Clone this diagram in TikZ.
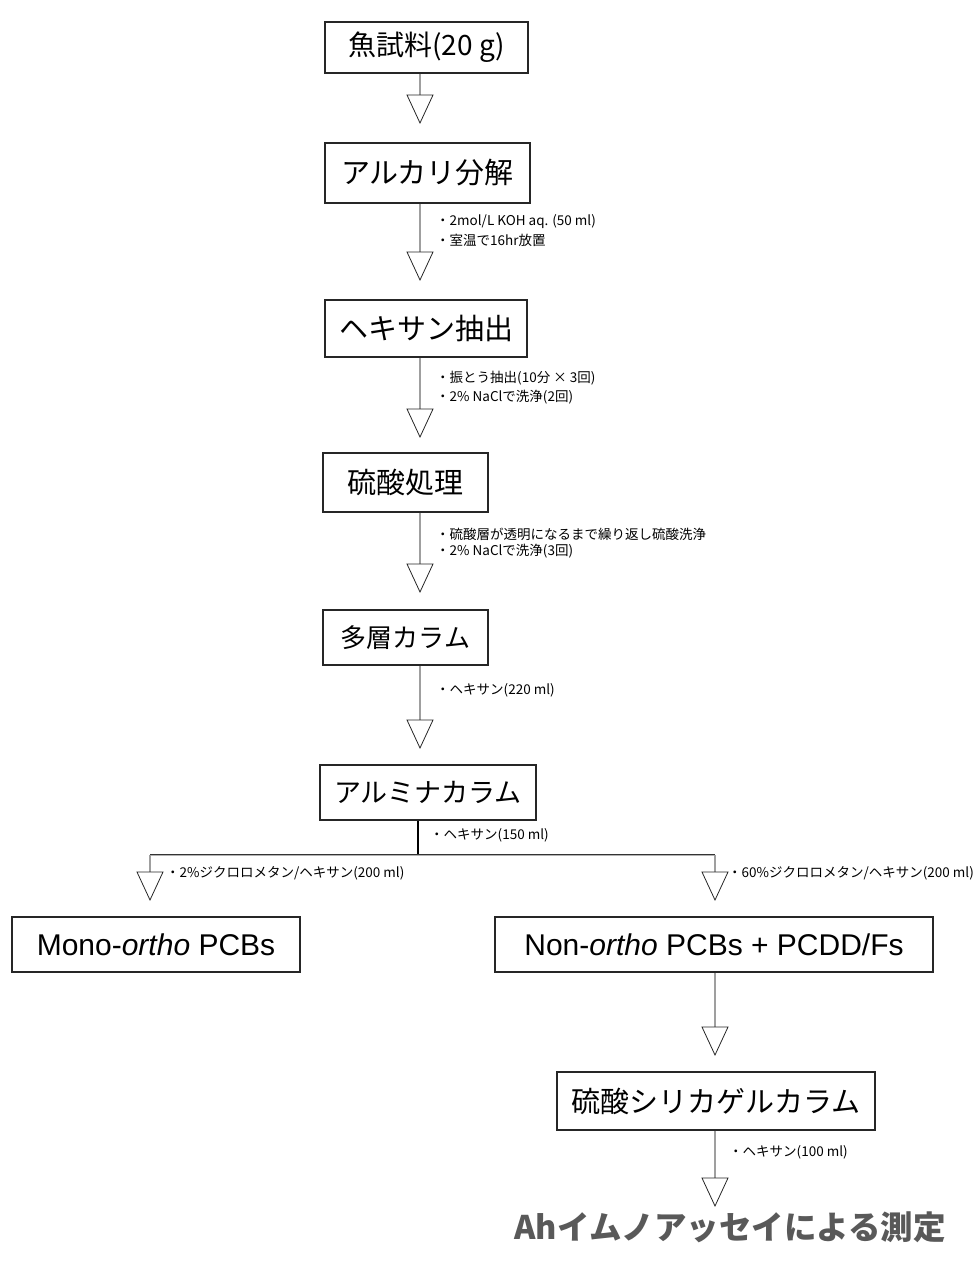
\documentclass[tikz,border=0pt]{standalone}
\usepackage{fontspec}
\setmainfont{Liberation Sans}
\newfontfamily\jp{Noto Sans CJK JP}
\usetikzlibrary{arrows.meta,calc}
\tikzset{
  box/.style={draw=black!85, line width=1.1pt, inner sep=0pt, align=center, font=\jp\fontsize{29}{32}\selectfont},
  latbox/.style={draw=black!85, line width=1.1pt, inner sep=0pt, align=center, font=\fontsize{30}{34}\selectfont},
  shaft/.style={draw=black, line width=0.7pt, double=gray!75, double distance=1.2pt},
  head/.style={draw=black!85, line width=0.8pt, fill=white},
  note/.style={anchor=west, inner sep=0pt, font=\jp\fontsize{13.5}{15}\selectfont},
  trunk/.style={draw=black, line width=1.4pt},
  bar/.style={draw=black!80, line width=0.6pt, double=gray!60, double distance=0.9pt}
}
\newcommand{\tri}[1]{\path[head] ($(#1)+(-13,0)$) -- ($(#1)+(13,0)$) -- ($(#1)+(0,28)$) -- cycle;}
\begin{document}
\begin{tikzpicture}[x=1pt,y=-1pt]
\useasboundingbox (0,0) rectangle (980,1262);
\coordinate (ax) at (420,0);
\coordinate (rx) at (715,0);
% boxes
\node[box, minimum width=203pt, minimum height=51pt, font=\jp\fontsize{28}{32}\selectfont] (b1) at (426.5,47.5) {魚試料(20 g)};
\node[box, minimum width=205pt, minimum height=60pt] (b2) at (427.5,173) {アルカリ分解};
\node[box, minimum width=202pt, minimum height=57pt] (b3) at (426,328.5) {ヘキサン抽出};
\node[box, minimum width=165pt, minimum height=59pt] (b4) at (405.5,482.5) {硫酸処理};
\node[box, minimum width=165pt, minimum height=55pt, font=\jp\fontsize{26}{30}\selectfont] (b5) at (405.5,637.5) {多層カラム};
\node[box, minimum width=216pt, minimum height=55pt, font=\jp\fontsize{27}{30}\selectfont] (b6) at (428,792.5) {アルミナカラム};
\node[latbox, minimum width=288pt, minimum height=55pt] (mono) at (156,944.5) {Mono-\textit{ortho} PCBs};
\node[latbox, minimum width=438pt, minimum height=55pt] (non) at (714,944.5) {Non-\textit{ortho} PCBs + PCDD/Fs};
\node[box, minimum width=318pt, minimum height=58pt] (sil) at (716,1101) {硫酸シリカゲルカラム};
\node[inner sep=0pt, font=\jp\bfseries\fontsize{32.5}{36}\selectfont, text=black!65] (fin) at (730,1227) {Ahイムノアッセイによる測定};
% arrow heads positions
\coordinate (h1) at (420,95);
\coordinate (h2) at (420,252);
\coordinate (h3) at (420,409);
\coordinate (h4) at (420,564);
\coordinate (h5) at (420,720);
\coordinate (hL) at (150,872);
\coordinate (hR) at (715,872);
\coordinate (h6) at (715,1027);
\coordinate (h7) at (715,1178);
% shafts
\draw[shaft] (b1.south -| ax) -- ($(h1)+(0,8)$);
\draw[shaft] (b2.south -| ax) -- ($(h2)+(0,8)$);
\draw[shaft] (b3.south -| ax) -- ($(h3)+(0,8)$);
\draw[shaft] (b4.south -| ax) -- ($(h4)+(0,8)$);
\draw[shaft] (b5.south -| ax) -- ($(h5)+(0,8)$);
\draw[shaft] (non.south -| rx) -- ($(h6)+(0,8)$);
\draw[shaft] (sil.south -| rx) -- ($(h7)+(0,8)$);
% branch
\coordinate (bM) at (418,855);
\coordinate (bL) at (150,855);
\coordinate (bR) at (715,855);
\draw[trunk] (b6.south -| bM) -- (bM);
\draw[bar] (bL) -- (bR);
\draw[shaft] (bL) -- ($(hL)+(0,6)$);
\draw[shaft] (bR) -- ($(hR)+(0,6)$);
% heads
\tri{h1}\tri{h2}\tri{h3}\tri{h4}\tri{h5}\tri{hL}\tri{hR}\tri{h6}\tri{h7}
% notes
\node[note] (n2a) at (436,222) {・2mol/L KOH aq. (50 ml)};
\node[note] (n2b) at (436,240) {・室温で16hr放置};
\node[note] (n3a) at (436,378) {・振とう抽出(10分 × 3回)};
\node[note] (n3b) at (436,397) {・2\% NaClで洗浄(2回)};
\node[note] (n4a) at (436,534) {・硫酸層が透明になるまで繰り返し硫酸洗浄};
\node[note] (n4b) at (436,551) {・2\% NaClで洗浄(3回)};
\node[note] (n5) at (436,690) {・ヘキサン(220 ml)};
\node[note] (n6) at (430,835) {・ヘキサン(150 ml)};
\node[note] (nL) at (166,873) {・2\%ジクロロメタン/ヘキサン(200 ml)};
\node[note] (nR) at (728,873) {・60\%ジクロロメタン/ヘキサン(200 ml)};
\node[note] (n7) at (729,1152) {・ヘキサン(100 ml)};
\end{tikzpicture}
\end{document}
